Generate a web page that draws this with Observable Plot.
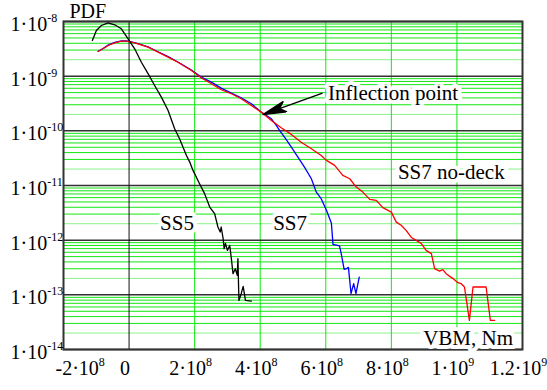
<!DOCTYPE html>
<html>
<head>
<meta charset="utf-8">
<script src="https://cdn.jsdelivr.net/npm/d3@7"></script>
<script src="https://cdn.jsdelivr.net/npm/@observablehq/plot@0.6"></script>
<style>
  body { margin: 0; background: #fff; }
  svg text { font-family: "Liberation Serif", "Times New Roman", serif; }
</style>
</head>
<body>
<div id="chart"></div>
<script>
// Axis ticks and their labels ("^" marks the exponent part)
const decades = [1e-14, 1e-13, 1e-12, 1e-11, 1e-10, 1e-9, 1e-8];
const yTickLabels = ["1·10^-14", "1·10^-13", "1·10^-12", "1·10^-11", "1·10^-10", "1·10^-9", "1·10^-8"];
const xTicks = [-2e8, 0, 2e8, 4e8, 6e8, 8e8, 1e9, 1.2e9];
const xTickLabels = ["-2·10^8", "0", "2·10^8", "4·10^8", "6·10^8", "8·10^8", "1·10^9", "1.2·10^9"];

// SS5 sea state
const ss5X = [-1.12e8, -9.97e7, -8.45e7, -6.4e7, -4.39e7, -2.35e7, -3e6, 1.71e7, 3.75e7, 5.79e7, 7.8e7, 9.85e7,
  1.19e8, 1.39e8, 1.54e8, 1.75e8, 1.85e8, 1.95e8, 2.15e8, 2.30e8, 2.46e8, 2.61e8, 2.71e8, 2.78e8, 2.81e8, 2.87e8,
  2.90e8, 2.94e8, 3.0e8, 3.07e8, 3.12e8, 3.17e8, 3.24e8, 3.30e8, 3.32e8, 3.35e8, 3.42e8, 3.48e8, 3.55e8, 3.73e8];
const ss5Y = [4.5e-9, 6.84e-9, 8.45e-9, 9.46e-9, 8.7e-9, 7.35e-9, 4.83e-9, 3.17e-9, 1.80e-9, 1.11e-9, 6.76e-10, 4.13e-10,
  2.36e-10, 1.09e-10, 7.17e-11, 3.55e-11, 2.68e-11, 1.89e-11, 1.08e-11, 7.18e-12, 4.03e-12, 3.05e-12, 1.74e-12, 1.41e-12, 1.74e-12, 1.06e-12,
  7.0e-13, 8.7e-13, 6.5e-13, 8.0e-13, 4.6e-13, 2.44e-13, 3.0e-13, 2.27e-13, 4.6e-13, 7.9e-14, 1.05e-13, 1.43e-13, 7.9e-14, 7.7e-14];

// SS7 sea state
const ss7X = [-9.45e7, -7.93e7, -6.40e7, -4.39e7, -2.35e7, -8.2e6, 7.0e6, 2.74e7, 5.79e7, 8.84e7, 1.19e8, 1.49e8, 1.90e8,
  2.20e8, 2.51e8, 2.81e8, 3.12e8, 3.42e8, 3.73e8, 4.03e8, 4.34e8, 4.49e8, 4.59e8, 4.79e8, 4.95e8, 5.15e8, 5.35e8, 5.56e8,
  5.71e8, 5.86e8, 6.02e8, 6.17e8, 6.22e8, 6.42e8, 6.47e8, 6.56e8, 6.63e8, 6.69e8, 6.77e8, 6.85e8, 6.92e8, 7.02e8];
const ss7Y = [2.85e-9, 3.2e-9, 3.7e-9, 4.15e-9, 4.4e-9, 4.4e-9, 4.22e-9, 3.95e-9, 3.45e-9, 2.8e-9, 2.28e-9, 1.82e-9, 1.3e-9,
  9.6e-10, 7.77e-10, 6.04e-10, 4.89e-10, 4.03e-10, 3.13e-10, 2.20e-10, 1.66e-10, 1.26e-10, 1.02e-10, 6.97e-11, 5.04e-11, 3.30e-11, 2.17e-11, 1.33e-11,
  7.57e-12, 5.74e-12, 3.51e-12, 2.07e-12, 8.37e-13, 7.87e-13, 5.67e-13, 2.92e-13, 3.01e-13, 3.18e-13, 1.05e-13, 1.60e-13, 1.05e-13, 2.11e-13];

// SS7 without deck
const noDeckX = [-9.45e7, -7.93e7, -6.40e7, -4.39e7, -2.35e7, -8.2e6, 7.0e6, 2.74e7, 5.79e7, 8.84e7, 1.19e8, 1.49e8, 1.90e8,
  2.20e8, 2.51e8, 2.81e8, 3.12e8, 3.42e8, 3.73e8, 4.03e8, 4.34e8, 4.64e8, 4.95e8, 5.25e8, 5.56e8, 5.86e8, 6.02e8, 6.27e8,
  6.52e8, 6.73e8, 6.93e8, 7.13e8, 7.34e8, 7.54e8, 7.74e8, 8.00e8, 8.15e8, 8.30e8, 8.45e8, 8.61e8, 8.76e8, 8.91e8, 9.06e8,
  9.22e8, 9.32e8, 9.47e8, 9.57e8, 9.67e8, 9.88e8, 1.003e9, 1.013e9, 1.023e9, 1.038e9, 1.049e9, 1.089e9, 1.102e9, 1.115e9];
const noDeckY = [2.83e-9, 3.17e-9, 3.64e-9, 4.08e-9, 4.36e-9, 4.36e-9, 4.18e-9, 3.91e-9, 3.39e-9, 2.75e-9, 2.23e-9, 1.80e-9, 1.27e-9,
  9.35e-10, 7.26e-10, 5.64e-10, 4.77e-10, 3.86e-10, 2.91e-10, 2.20e-10, 1.55e-10, 1.14e-10, 8.6e-11, 6.2e-11, 4.71e-11, 3.55e-11, 2.88e-11, 2.33e-11,
  1.53e-11, 1.33e-11, 9.35e-12, 7.58e-12, 5.57e-12, 5.34e-12, 3.93e-12, 3.26e-12, 2.14e-12, 1.87e-12, 1.51e-12, 1.12e-12, 9.9e-13, 8.7e-13, 6.5e-13,
  5.67e-13, 3.01e-13, 2.72e-13, 2.89e-13, 2.44e-13, 1.98e-13, 1.67e-13, 1.60e-13, 1.39e-13, 3.42e-14, 1.39e-13, 1.39e-13, 3.42e-14, 3.42e-14];

// Annotations, placed in data units
const centerLabels = [
  {x: 1.46e8, y: 2.0e-12, text: "SS5"},
  {x: 4.91e8, y: 2.0e-12, text: "SS7"}
];
const startLabels = [
  {x: 6.07e8, y: 4.91e-10, text: "Inflection point"},
  {x: 8.2e8, y: 1.71e-11, text: "SS7 no-deck"}
];
const axisTitleY = [{x: -1.82e8, y: 1.5e-8, text: "PDF"}];
const axisTitleX = [{x: 1.171e9, y: 1.58e-14, text: "VBM, Nm"}];
const pointer = [{x1: 5.9e8, y1: 4.9e-10, x2: 4.1e8, y2: 2.0e-10}];

const zip = (xs, ys) => xs.map((x, i) => ({x, y: ys[i]}));
const minorLines = decades.slice(0, -1).flatMap(d => [3, 4, 5, 6, 7, 8, 9].map(k => k * d));
const minorLight = decades.slice(0, -1).map(d => 2 * d);
const xGrid = xTicks.filter(v => v !== 0);

const svgNS = "http://www.w3.org/2000/svg";
function arrowHead(color, context) {
  const doc = context.document;
  const m = doc.createElementNS(svgNS, "marker");
  m.setAttribute("viewBox", "-24 -6 25 12");
  m.setAttribute("markerWidth", 25);
  m.setAttribute("markerHeight", 12);
  m.setAttribute("markerUnits", "userSpaceOnUse");
  m.setAttribute("orient", "auto");
  m.setAttribute("refX", 0);
  m.setAttribute("refY", 0);
  const p = doc.createElementNS(svgNS, "path");
  p.setAttribute("d", "M-23,-5.5L1,0L-23,5.5L-17,0Z");
  p.setAttribute("fill", color);
  m.appendChild(p);
  return m;
}

const font = "Liberation Serif";
const label = {fontFamily: font, fill: "black"};
const halo = {stroke: "white", strokeWidth: 8};

const chart = Plot.plot({
  width: 547,
  height: 390,
  marginLeft: 63,
  marginRight: 25,
  marginTop: 21,
  marginBottom: 41,
  x: {type: "linear", domain: [-2e8, 1.2e9], axis: null},
  y: {type: "log", domain: [1e-14, 1e-8], axis: null},
  style: {background: "white", overflow: "visible"},
  marks: [
    Plot.ruleY(minorLight, {stroke: "#8cf08c", strokeWidth: 1}),
    Plot.ruleY(minorLines, {stroke: "#10e810", strokeWidth: 1}),
    Plot.ruleX(xGrid, {stroke: "#10e810", strokeWidth: 1}),
    Plot.ruleY(decades, {stroke: "#333", strokeWidth: 1.5}),
    Plot.ruleX([0], {stroke: "#111", strokeWidth: 1}),
    Plot.frame({stroke: "#333", strokeWidth: 2}),

    Plot.line(zip(ss7X, ss7Y), {x: "x", y: "y", stroke: "#0000ff", strokeWidth: 1.3}),
    Plot.line(zip(noDeckX, noDeckY), {x: "x", y: "y", stroke: "#ff0000", strokeWidth: 1.3}),
    Plot.line(zip(ss5X, ss5Y), {x: "x", y: "y", stroke: "#000", strokeWidth: 1.3}),

    Plot.link(pointer, {x1: "x1", y1: "y1", x2: "x2", y2: "y2", stroke: "#000", strokeWidth: 1.3, markerEnd: arrowHead}),

    Plot.text(centerLabels, {x: "x", y: "y", text: "text", textAnchor: "middle", fontSize: 21, ...label, ...halo}),
    Plot.text(startLabels, {x: "x", y: "y", text: "text", textAnchor: "start", fontSize: 21, ...label, ...halo}),
    Plot.text(axisTitleX, {x: "x", y: "y", text: "text", textAnchor: "end", fontSize: 21, ...label, ...halo}),
    Plot.text(axisTitleY, {x: "x", y: "y", text: "text", textAnchor: "start", fontSize: 20, ...label}),

    // tick labels
    Plot.text(decades, {y: d => d, text: (d, i) => yTickLabels[i], frameAnchor: "left", textAnchor: "start",
      dx: -53, dy: 3, fontSize: 20, ...label}),
    Plot.text(xTicks.slice(0, 1), {x: d => d, text: (d, i) => xTickLabels[i], frameAnchor: "bottom", textAnchor: "start",
      dx: -8, dy: 25, fontSize: 20, ...label}),
    Plot.text(xTicks.slice(1), {x: d => d, text: (d, i) => xTickLabels[i + 1], frameAnchor: "bottom", textAnchor: "middle",
      dx: -4, dy: 25, fontSize: 20, ...label})
  ]
});

// Turn "a^b" tick labels into a mantissa with a raised exponent
for (const t of chart.querySelectorAll("text")) {
  if (!t.textContent.includes("^")) continue;
  const [m, e] = t.textContent.split("^");
  t.textContent = m;
  const s = document.createElementNS(svgNS, "tspan");
  s.setAttribute("dy", "-9");
  s.setAttribute("font-size", "12");
  s.textContent = e;
  t.appendChild(s);
}

document.getElementById("chart").appendChild(chart);
</script>
</body>
</html>
